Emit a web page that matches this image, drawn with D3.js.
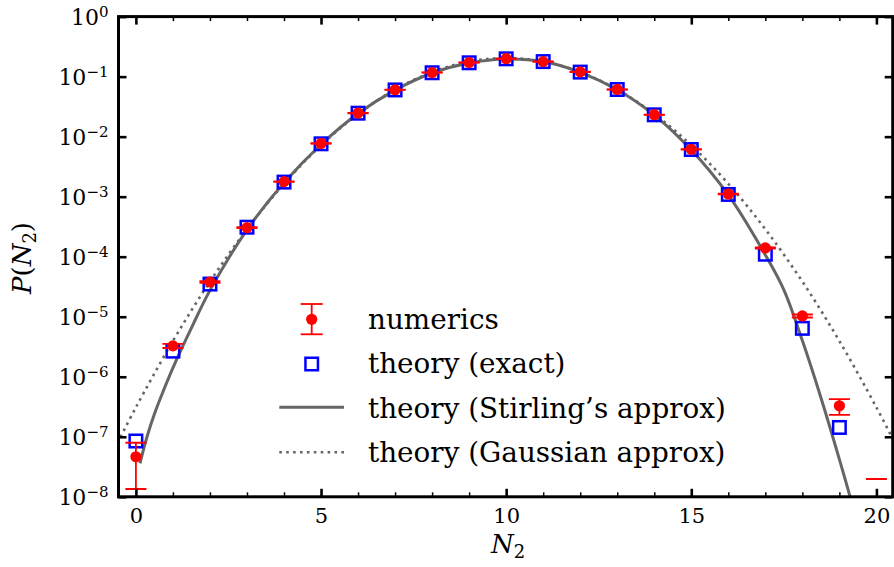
<!DOCTYPE html>
<html><head><meta charset="utf-8">
<script src="https://cdn.jsdelivr.net/npm/d3@7"></script>
<style>
body{margin:0;background:#fff} svg{display:block}
svg text{font-family:"DejaVu Serif","Liberation Serif",serif;}
</style>
</head><body><svg id="c" width="894" height="567"></svg>
<script>
// ---------------- data ----------------
const numericsN   = [0,1,2,3,4,5,6,7,8,9,10,11,12,13,14,15,16,17,18,19,20];
const numericsP   = [4.65e-8,3.27e-6,3.79e-5,3.05e-4,1.78e-3,7.7e-3,2.47e-2,6.05e-2,0.117,0.172,0.199,0.178,0.120,0.0612,0.0232,6.15e-3,1.11e-3,1.40e-4,1.03e-5,3.28e-7,0];
const numericsErr = [3.3e-8,2.6e-7,1.2e-6,5e-6,2e-5,6e-5,1.5e-4,3e-4,5e-4,6e-4,6e-4,6e-4,5e-4,3e-4,1.5e-4,5e-5,1.5e-5,3e-6,6e-7,9.6e-8,1.98e-8];
const theoryN     = [0,1,2,3,4,5,6,7,8,9,10,11,12,13,14,15,16,17,18,19];
const theoryExact = [8.5e-8,2.67e-6,3.5e-5,3.1e-4,1.75e-3,7.6e-3,2.46e-2,6.0e-2,0.116,0.170,0.198,0.178,0.119,0.061,0.0231,6.1e-3,1.09e-3,1.1e-4,6.4e-6,1.43e-7];
const stirlingN   = [0.11,0.3,0.5,0.75,1,1.5,2,3,4,5,6,7,8,9,10,11,12,13,14,15,16,17,17.5,18,18.5,19,19.27,19.5];
const stirlingP   = [3.6e-8,1.0e-7,2.4e-7,6.0e-7,1.41e-6,6.5e-6,2.75e-5,2.8e-4,1.7e-3,7.4e-3,2.43e-2,5.96e-2,0.115,0.169,0.197,0.178,0.118,0.0605,0.0229,6.0e-3,1.07e-3,1.07e-4,2.8e-5,4.0e-6,4.5e-7,4.2e-8,1.1e-8,3.2e-9];
const gaussN      = [-0.5,0,1,2,3,4,5,6,7,8,9,10,11,12,13,14,15,16,17,18,19,20,20.5];
const gaussP      = [7.82e-8,3.09e-7,3.94e-6,3.85e-5,2.87e-4,1.64e-3,7.16e-3,2.39e-2,6.11e-2,0.119,0.179,0.204,0.179,0.119,6.11e-2,2.39e-2,7.16e-3,1.64e-3,2.87e-4,3.85e-5,3.94e-6,3.09e-7,7.82e-8];
const xMajorTicks = [0,5,10,15,20];
const xMinorTicks = [1,2,3,4,6,7,8,9,11,12,13,14,16,17,18,19];
const yTickExps   = [0,-1,-2,-3,-4,-5,-6,-7,-8];
const legendLabels = ["numerics","theory (exact)","theory (Stirling\u2019s approx)","theory (Gaussian approx)"];

// ---------------- drawing ----------------
(function(){
const svg = d3.select("#c");
const L = 118.5, R = 892.7, T = 16.6, B = 496.8;
const x = d3.scaleLinear().domain([-0.47, 20.44]).range([L, R]);
const y = d3.scaleLog().domain([1e-8, 1]).range([B, T]);
const GRAY = "#666666";

svg.append("defs").append("clipPath").attr("id","clip")
  .append("rect").attr("x",L).attr("y",T).attr("width",R-L).attr("height",B-T);

const plot = svg.append("g").attr("clip-path","url(#clip)");

const line = d3.line().x(d=>x(d[0])).y(d=>y(d[1])).curve(d3.curveCatmullRom.alpha(0.5));
plot.append("path").datum(gaussN.map((n,i)=>[n,gaussP[i]]))
  .attr("d",line).attr("fill","none").attr("stroke",GRAY).attr("stroke-width",2.6)
  .attr("stroke-dasharray","2.6,4.3");
plot.append("path").datum(stirlingN.map((n,i)=>[n,stirlingP[i]]))
  .attr("d",line).attr("fill","none").attr("stroke",GRAY).attr("stroke-width",3);

// theory squares
const SQ = 12.5;
plot.selectAll("rect.sq").data(theoryN.map((n,i)=>[n,theoryExact[i]])).join("rect")
  .attr("class","sq").attr("x",d=>x(d[0])-SQ/2).attr("y",d=>y(d[1])-SQ/2)
  .attr("width",SQ).attr("height",SQ).attr("fill","none").attr("stroke","#0000ff").attr("stroke-width",2.5);

// numerics error bars
const RED = "#ff0000", CAP = 10.5;
const eb = plot.selectAll("g.eb").data(numericsN.map((n,i)=>({n,v:numericsP[i],e:numericsErr[i]}))).join("g").attr("class","eb");
eb.filter(d=>d.v>0).append("line")
  .attr("x1",d=>x(d.n)).attr("x2",d=>x(d.n))
  .attr("y1",d=>y(d.v+d.e)).attr("y2",d=>y(Math.max(d.v-d.e,1e-12)))
  .attr("stroke",RED).attr("stroke-width",1.8);
eb.append("line")
  .attr("x1",d=>x(d.n)-CAP).attr("x2",d=>x(d.n)+CAP)
  .attr("y1",d=>y(d.v+d.e)).attr("y2",d=>y(d.v+d.e))
  .attr("stroke",RED).attr("stroke-width",1.8);
eb.filter(d=>d.v-d.e>0).append("line")
  .attr("x1",d=>x(d.n)-CAP).attr("x2",d=>x(d.n)+CAP)
  .attr("y1",d=>y(d.v-d.e)).attr("y2",d=>y(d.v-d.e))
  .attr("stroke",RED).attr("stroke-width",1.8);
eb.filter(d=>d.v>0).append("circle")
  .attr("cx",d=>x(d.n)).attr("cy",d=>y(d.v)).attr("r",5.6).attr("fill",RED);

// axes (inward ticks)
function styleAxis(g, w){
  g.select(".domain").remove();
  g.attr("font-family",null);
  g.selectAll(".tick line").attr("stroke","#000").attr("stroke-width",w);
  g.selectAll(".tick text").attr("fill","#000");
}
const gBottom = svg.append("g").attr("transform",`translate(0,${B})`)
  .call(d3.axisBottom(x).tickValues(xMajorTicks).tickSize(-8).tickPadding(11).tickFormat(d3.format("d")));
styleAxis(gBottom,2.6); gBottom.selectAll(".tick text").attr("font-size",21);
const gBottomMin = svg.append("g").attr("transform",`translate(0,${B})`)
  .call(d3.axisBottom(x).tickValues(xMinorTicks).tickSize(-4.5).tickFormat(""));
styleAxis(gBottomMin,1.5);
const gTop = svg.append("g").attr("transform",`translate(0,${T})`)
  .call(d3.axisTop(x).tickValues(xMajorTicks).tickSize(-8).tickFormat(""));
styleAxis(gTop,2.6);
const gTopMin = svg.append("g").attr("transform",`translate(0,${T})`)
  .call(d3.axisTop(x).tickValues(xMinorTicks).tickSize(-4.5).tickFormat(""));
styleAxis(gTopMin,1.5);
const yVals = yTickExps.map(e=>Math.pow(10,e));
const gLeft = svg.append("g").attr("transform",`translate(${L},0)`)
  .call(d3.axisLeft(y).tickValues(yVals).tickSize(-8).tickPadding(10).tickFormat(""));
styleAxis(gLeft,2.6);
gLeft.selectAll(".tick text").attr("font-size",22).attr("dy","0.36em").each(function(d,i){
  const t = d3.select(this);
  t.append("tspan").text("10");
  const e = Math.round(Math.log10(d));
  t.append("tspan").attr("dy",-8).attr("font-size",15).text(e<0 ? "\u2212"+(-e) : String(e));
});
const gRight = svg.append("g").attr("transform",`translate(${R},0)`)
  .call(d3.axisRight(y).tickValues(yVals).tickSize(-8).tickFormat(""));
styleAxis(gRight,2.6);

// frame
svg.append("rect").attr("x",L).attr("y",T).attr("width",R-L).attr("height",B-T)
  .attr("fill","none").attr("stroke","#000").attr("stroke-width",3);

// axis labels
const xl = svg.append("text").attr("x",508).attr("y",553).attr("text-anchor","middle")
  .attr("font-size",26);
xl.append("tspan").attr("font-style","italic").text("N");
xl.append("tspan").attr("font-size",18).attr("dy",5).text("2");
const yl = svg.append("text").attr("transform","translate(31,258) rotate(-90)").attr("text-anchor","middle")
  .attr("font-size",26);
yl.append("tspan").attr("font-style","italic").text("P");
yl.append("tspan").text("(");
yl.append("tspan").attr("font-style","italic").text("N");
yl.append("tspan").attr("font-size",18).attr("dy",5).text("2");
yl.append("tspan").attr("dy",-5).text(")");

// legend
const lg = svg.append("g");
const sx = 311.7, rows = [319.3, 364, 407.3, 452.3], baselines = [329.3, 373.3, 417.7, 461.7];
lg.append("line").attr("x1",sx).attr("x2",sx).attr("y1",304).attr("y2",334.3).attr("stroke",RED).attr("stroke-width",1.8);
[304,334.3].forEach(v=>lg.append("line").attr("x1",sx-11).attr("x2",sx+11).attr("y1",v).attr("y2",v).attr("stroke",RED).attr("stroke-width",1.8));
lg.append("circle").attr("cx",sx).attr("cy",rows[0]).attr("r",5.6).attr("fill",RED);
lg.append("rect").attr("x",sx-SQ/2).attr("y",rows[1]-SQ/2).attr("width",SQ).attr("height",SQ)
  .attr("fill","none").attr("stroke","#0000ff").attr("stroke-width",2.5);
lg.append("line").attr("x1",279.3).attr("x2",344).attr("y1",rows[2]).attr("y2",rows[2]).attr("stroke",GRAY).attr("stroke-width",3);
lg.append("line").attr("x1",279.3).attr("x2",344).attr("y1",rows[3]).attr("y2",rows[3]).attr("stroke",GRAY).attr("stroke-width",2.6).attr("stroke-dasharray","2.6,4.3");
const texts = lg.selectAll("text").data(legendLabels).join("text")
  .attr("x",368).attr("y",(d,i)=>baselines[i]).attr("font-size",28).text(d=>d);
const w = texts.nodes()[2].getComputedTextLength();
texts.attr("font-size", Math.min(30, 28*358/w));
})();
</script></body></html>
